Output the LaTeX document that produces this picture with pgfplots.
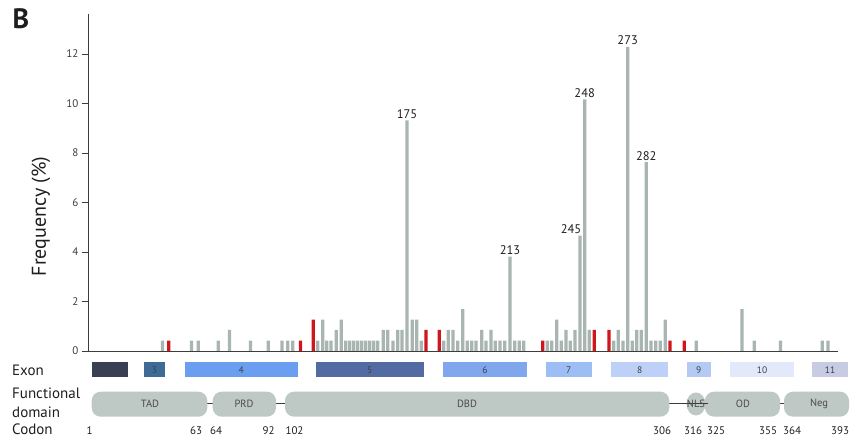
\documentclass[border=0pt]{standalone}
\usepackage{fontspec}
\setmainfont{PT Sans}
\usepackage{pgfplots}
\pgfplotsset{compat=1.18}
\definecolor{bargray}{RGB}{168,181,177}
\definecolor{barred}{RGB}{208,22,28}
\definecolor{domgray}{RGB}{190,200,196}
\definecolor{axgray}{RGB}{60,60,60}
\definecolor{txt}{RGB}{30,30,30}
\definecolor{ex2}{RGB}{58,64,84}
\definecolor{ex3}{RGB}{62,106,152}
\definecolor{ex4}{RGB}{106,158,240}
\definecolor{ex5}{RGB}{84,106,162}
\definecolor{ex6}{RGB}{128,166,238}
\definecolor{ex7}{RGB}{157,190,245}
\definecolor{ex8}{RGB}{189,208,248}
\definecolor{ex9}{RGB}{180,202,245}
\definecolor{ex10}{RGB}{225,233,251}
\definecolor{ex11}{RGB}{199,203,227}
\begin{document}
\begin{tikzpicture}
\begin{axis}[
  scale only axis, width=750pt, height=336.6pt,
  xmin=88, xmax=838, ymin=0, ymax=13.6,
  axis lines=left, axis line style={-, axgray, line width=0.9pt},
  xtick=\empty, ytick={0,2,...,12},
  tick align=outside, major tick length=6pt,
  tick style={axgray, line width=0.9pt},
  yticklabel style={font=\fontsize{11}{13}\selectfont, text=axgray},
  /pgf/number format/assume math mode=true,
  ylabel={Frequency (\%)},
  ylabel style={at={(axis description cs:-0.0627,0.40)}, anchor=center, font=\fontsize{20}{24}\selectfont, text=txt},
  clip=false,
]
\addplot[ybar, bar shift=0pt, bar width=3.3, fill=bargray, draw=none] coordinates {
(162.5,0.42) (191.5,0.42) (198.3,0.42) (218.3,0.42) (229.5,0.85) (250.5,0.42)
(268.3,0.42) (282,0.42) (287.7,0.42) (292.7,0.42)
(317.7,0.42) (322.7,1.27) (326.7,0.42) (331,0.42) (336.3,0.85) (341.3,1.27)
(345.7,0.42) (349.7,0.42) (353.7,0.42) (357.7,0.42) (361.7,0.42) (365.7,0.42)
(369.7,0.42) (373.7,0.42) (377.7,0.42) (383.3,0.85) (387.7,0.85) (393,0.42)
(397.7,0.85) (402,0.85) (407,9.32) (412.3,1.27) (416.7,1.27) (421.3,0.42)
(443.7,0.42) (448.3,0.85) (453,0.85) (457.7,0.42) (462.7,1.69) (467.3,0.42)
(471.7,0.42) (476,0.42) (481.7,0.85) (486,0.42) (491,0.85) (495.3,0.42)
(500,0.42) (504.7,0.42) (510,3.81) (514.7,0.42) (519.3,0.42) (523.7,0.42)
(547.3,0.42) (551.7,0.42) (556.7,1.27) (561.3,0.42) (566,0.85) (570.3,0.42)
(575,0.85) (580,4.66) (584.7,10.17) (589.3,0.85)
(613.7,0.42) (618.3,0.85) (623,0.42) (627.7,12.29) (632.3,0.42) (636.7,0.85)
(641.3,0.85) (646.3,7.63) (651,0.42) (655.7,0.42) (660.3,0.42) (665.3,1.27)
(696.3,0.42) (742,1.69) (754.3,0.42) (780.5,0.42) (822.3,0.42) (828,0.42)
};
\addplot[ybar, bar shift=0pt, bar width=3.3, fill=barred, draw=none] coordinates {
(168.8,0.42) (300.5,0.42) (313.3,1.27) (426,0.85) (439.3,0.85)
(542.7,0.42) (594.3,0.85) (609,0.85) (670,0.42) (684.3,0.42)
};
\begin{scope}[every node/.style={font=\fontsize{12.5}{14}\selectfont, text=txt, inner sep=1.5pt}]
\node[above] at (axis cs:407,9.32) {175};
\node[above] at (axis cs:510,3.81) {213};
\node[above left, xshift=3pt] at (axis cs:580,4.66) {245};
\node[above] at (axis cs:584.7,10.17) {248};
\node[above] at (axis cs:627.7,12.29) {273};
\node[above] at (axis cs:646.3,7.63) {282};
\end{scope}
\end{axis}
\begin{scope}[xshift=-88pt, yshift=351pt, x=1pt, y=-1pt]
% panel letter
\node[font=\fontsize{28}{30}\selectfont\bfseries, text=txt] at (21,19) {B};
% left labels
\begin{scope}[every node/.style={font=\fontsize{15}{17}\selectfont, text=txt, anchor=base west, inner sep=0pt}]
\node at (12,376) {Exon};
\node at (12,399) {Functional};
\node at (12,418) {domain};
\node at (12,434.5) {Codon};
\end{scope}
% exons
\begin{scope}[every node/.style={font=\fontsize{9.5}{10}\selectfont, text=txt!85}]
\fill[ex2] (91.7,362.5) rectangle (128.3,377.3); \node at (110,370) {2};
\fill[ex3] (144,362.5) rectangle (165,377.3); \node at (154.5,370) {3};
\fill[ex4] (185,362.5) rectangle (297.7,377.3); \node at (241.3,370) {4};
\fill[ex5] (315.7,362.5) rectangle (424,377.3); \node at (369.8,370) {5};
\fill[ex6] (442.7,362.5) rectangle (527.3,377.3); \node at (485,370) {6};
\fill[ex7] (546,362.5) rectangle (591.7,377.3); \node at (568.8,370) {7};
\fill[ex8] (611,362.5) rectangle (668.3,377.3); \node at (639.6,370) {8};
\fill[ex9] (686.7,362.5) rectangle (711,377.3); \node at (698.8,370) {9};
\fill[ex10] (730,362.5) rectangle (794,377.3); \node at (762,370) {10};
\fill[ex11] (812.3,362.5) rectangle (847.7,377.3); \node at (830,370) {11};
\end{scope}
% domains
\draw[axgray, line width=1pt] (205,404) -- (214,404) (274,404) -- (287,404) (667,404) -- (690,404) (778,404) -- (786,404);
\fill[domgray, rounded corners=9pt] (91.7,391.7) rectangle (207.3,416.7);
\fill[domgray, rounded corners=9pt] (212.7,391.7) rectangle (276,416.7);
\fill[domgray, rounded corners=9pt] (285,391.7) rectangle (669.3,416.7);
\fill[domgray] (696,404) ellipse [x radius=9.5, y radius=11.5];
\fill[domgray, rounded corners=9pt] (705,391.7) rectangle (780,416.7);
\fill[domgray, rounded corners=9pt] (784,391.7) rectangle (849,416.7);
\draw[axgray, line width=1pt] (684,404) -- (708,404);
\begin{scope}[every node/.style={font=\fontsize{10.5}{12}\selectfont, text=txt!80}]
\node at (150,404) {TAD};
\node at (244,404) {PRD};
\node at (467,404) {DBD};
\node at (696,404) {NLS};
\node at (743,404) {OD};
\node at (819,404) {Neg};
\end{scope}
% codons
\begin{scope}[every node/.style={font=\fontsize{11}{13}\selectfont, text=txt, anchor=base, inner sep=0pt}]
\node at (89.5,434.5) {1};
\node at (196,434.5) {63};
\node at (216,434.5) {64};
\node at (268.5,434.5) {92};
\node at (294.5,434.5) {102};
\node at (662,434.5) {306};
\node at (693,434.5) {316};
\node at (716,434.5) {325};
\node at (768,434.5) {355};
\node at (792,434.5) {364};
\node at (840,434.5) {393};
\end{scope}
\pgfresetboundingbox
\useasboundingbox (0,0) rectangle (851,438);
\end{scope}
\end{tikzpicture}
\end{document}
